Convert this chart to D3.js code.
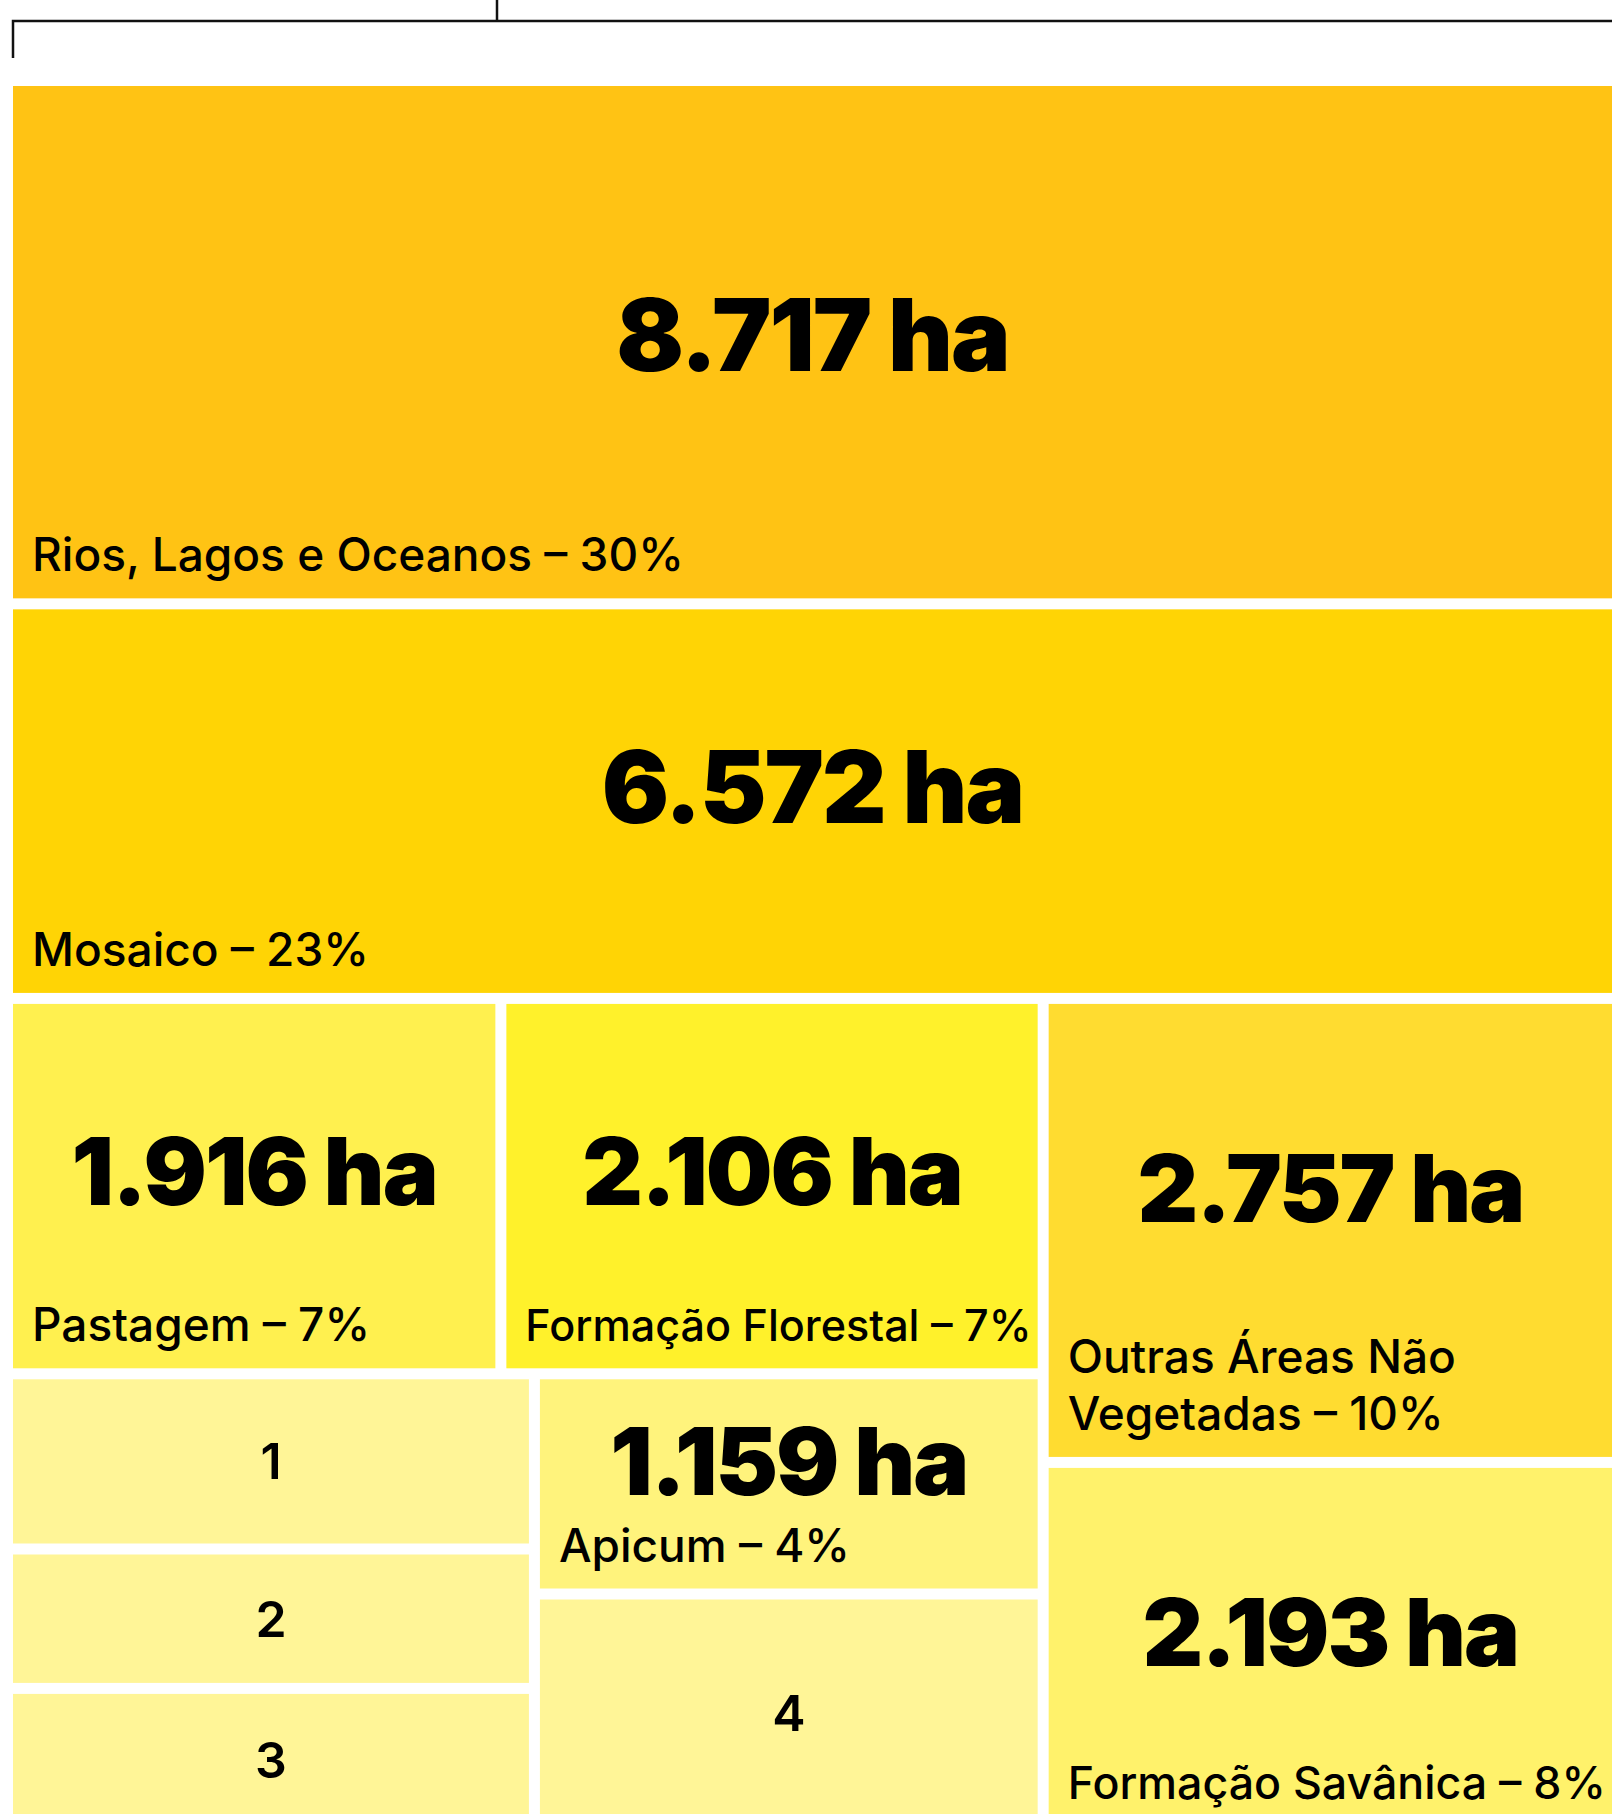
<!DOCTYPE html>
<html>
<head>
<meta charset="utf-8">
<script src="https://cdn.jsdelivr.net/npm/d3@7"></script>
<style>
  body { margin: 0; background: #fff; }
  svg text { font-family: Inter, "Open Sans", "Noto Sans", sans-serif; fill: #000; }
</style>
</head>
<body>
<div id="chart"></div>
<script>
// land cover classes and their area (ha)
var categories = ["Rios, Lagos e Oceanos", "Mosaico", "Pastagem", "Formação Florestal", "Apicum",
    "Outras Áreas Não Vegetadas", "Formação Savânica", "1", "2", "3", "4"];
var hectares = [8717, 6572, 1916, 2106, 1159, 2757, 2193, 955, 760, 780, 1250];
var percents = [30, 23, 7, 7, 4, 10, 8, null, null, null, null];
// which block each class sits in
var parents = ["root", "root", "topRow", "topRow", "colApicum", "right", "right", "col123", "col123", "col123", "colApicum"];

// blocks of the treemap and how they split (slice = stacked, dice = side by side)
var groupIds = ["root", "rest", "left", "right", "topRow", "bottomRow", "col123", "colApicum"];
var groupParents = [null, "root", "rest", "rest", "left", "left", "bottomRow", "bottomRow"];
var groupSplit = ["slice", "dice", "slice", "slice", "dice", "dice", "slice", "slice"];

var colors = ["#FFC314", "#FFD405", "#FFF04F", "#FFF12B", "#FFF37C", "#FFDC30", "#FFF26B",
    "#FFF597", "#FFF597", "#FFF597", "#FFF597"];

var svgWidth = 1612;
var svgHeight = 1814;
var margin = {top: 86, left: 13};
var width = svgWidth - margin.left;
var height = 1740;

var svg = d3.select("#chart")
    .append("svg")
    .attr("width", svgWidth)
    .attr("height", svgHeight);

// bracket above the chart
var bracket = svg.append("g")
    .attr("stroke", "#111")
    .attr("stroke-width", 2.5)
    .attr("fill", "none");
bracket.append("path").attr("d", `M${margin.left},58 V21 H${svgWidth}`);
bracket.append("path").attr("d", "M497,0 V21");

var rows = categories.map((c, i) => ({id: c, parent: parents[i], value: hectares[i], pct: percents[i]}))
    .concat(groupIds.map((g, i) => ({id: g, parent: groupParents[i], split: groupSplit[i]})));

var root = d3.stratify()
    .id(d => d.id)
    .parentId(d => d.parent)(rows)
    .sum(d => d.value || 0);

d3.treemap()
    .size([width, height])
    .paddingInner(11)
    .tile((node, x0, y0, x1, y1) =>
        (node.data.split === "dice" ? d3.treemapDice : d3.treemapSlice)(node, x0, y0, x1, y1))(root);

var color = d3.scaleOrdinal().domain(categories).range(colors);
var br = d3.formatLocale({decimal: ",", thousands: ".", grouping: [3], currency: ["R$", ""]});
var fmt = br.format(",d");

var chartGroup = svg.append("g")
    .attr("transform", `translate(${margin.left},${margin.top})`);

var cells = chartGroup.selectAll("g.cell")
    .data(root.leaves())
    .enter()
    .append("g")
    .attr("class", "cell")
    .attr("transform", d => `translate(${d.x0},${d.y0})`);

cells.append("rect")
    .attr("width", d => d.x1 - d.x0)
    .attr("height", d => d.y1 - d.y0)
    .attr("fill", d => color(d.data.id));

var labelSize = 46;
var lineHeight = 57;
var pad = 19;

cells.each(function(d) {
    var g = d3.select(this);
    var w = d.x1 - d.x0, h = d.y1 - d.y0;

    if (d.data.pct === null) {
        // small numbered boxes
        g.append("text")
            .attr("x", w / 2)
            .attr("y", h / 2 + 18)
            .attr("text-anchor", "middle")
            .attr("font-size", 50)
            .attr("font-weight", 600)
            .text(d.data.id);
        return;
    }

    // label at the bottom: one line, squeezed a little if needed, else wrapped
    var label = g.append("text")
        .attr("x", pad)
        .attr("font-size", labelSize)
        .attr("font-weight", 500);
    var full = d.data.id + " – " + d.data.pct + "%";
    var room = w - pad - 6;
    var probe = label.append("tspan").text(full);
    var lines = [];
    var fullLen = probe.node().getComputedTextLength();
    if (fullLen <= room * 1.08) {
        lines.push(full);
        if (fullLen > room) label.attr("font-size", labelSize * room / fullLen);
    } else {
        var line = [];
        full.split(" ").forEach(function(word) {
            line.push(word);
            probe.text(line.join(" "));
            if (probe.node().getComputedTextLength() > room && line.length > 1) {
                line.pop();
                lines.push(line.join(" "));
                line = [word];
            }
        });
        lines.push(line.join(" "));
    }
    probe.remove();
    var lastBase = h - 27;
    lines.forEach(function(t, i) {
        label.append("tspan")
            .attr("x", pad)
            .attr("y", lastBase - (lines.length - 1 - i) * lineHeight)
            .text(t);
    });

    // big value, placed in the space above the label
    var labelTop = lastBase - (lines.length - 1) * lineHeight - 0.72 * labelSize;
    var size = w > 1000 ? 100 : 94;
    var mid = 0.55 * labelTop;
    g.append("text")
        .attr("x", w / 2)
        .attr("y", mid + 0.36 * size)
        .attr("text-anchor", "middle")
        .attr("font-size", size)
        .attr("font-weight", 900)
        .attr("letter-spacing", -2)
        .text(fmt(d.data.value) + " ha");
});
</script>
</body>
</html>
